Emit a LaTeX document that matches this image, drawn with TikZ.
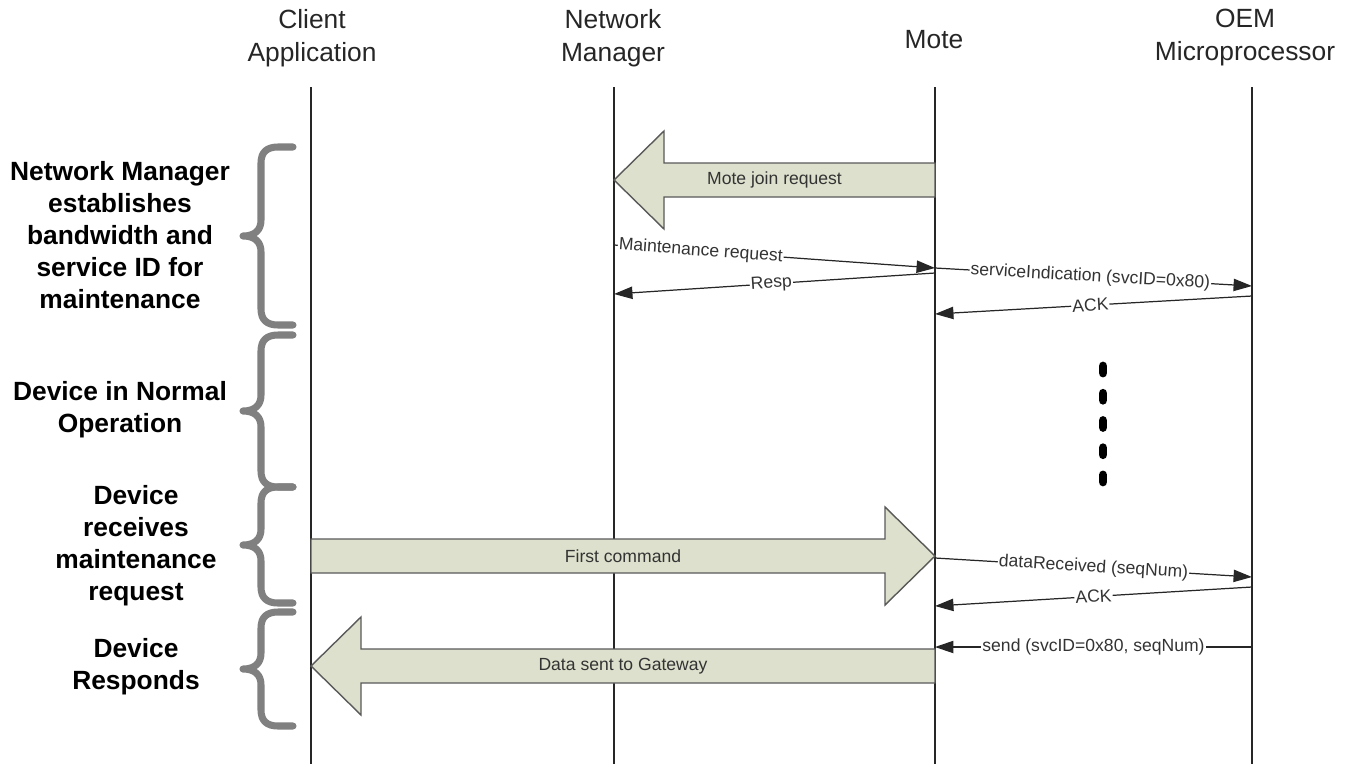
\documentclass[tikz,border=0pt]{standalone}
\usepackage{fontspec}
\setmainfont{Liberation Sans}
\usetikzlibrary{arrows.meta,calc}

\definecolor{armfill}{HTML}{DDE0CC}
\definecolor{curlgray}{HTML}{808080}

% 中括弧 (上端, 下端)
\newcommand\grpbrace[2]{%
  \draw[curl] (293,#1) -- (278,#1) .. controls (267,#1) and (261,#1+5) .. (261,#1+16)
    -- (261,{(#1+#2)/2-16}) .. controls (261,{(#1+#2)/2-6}) and (255,{(#1+#2)/2}) .. (243,{(#1+#2)/2})
    .. controls (255,{(#1+#2)/2}) and (261,{(#1+#2)/2+6}) .. (261,{(#1+#2)/2+16})
    -- (261,#2-16) .. controls (261,#2-5) and (267,#2) .. (278,#2) -- (293,#2);}

\begin{document}
\begin{tikzpicture}[x=0.02cm,y=-0.02cm,>={Triangle[length=10.5pt,width=7pt]},
  actor/.style={align=center,font=\fontsize{15}{18.8}\selectfont,text=black!85},
  phase/.style={align=center,font=\fontsize{15}{18.2}\selectfont\bfseries},
  life/.style={line width=1.1pt,black!85},
  msg/.style={->,line width=0.7pt,black!85},
  msglbl/.style={fill=white,inner sep=0.6pt,sloped,font=\fontsize{10}{12}\selectfont,text=black!80},
  biglbl/.style={inner sep=0pt,font=\fontsize{10}{12}\selectfont,text=black!80},
  fatarrow/.style={fill=armfill,draw=black!65,line width=0.8pt,line join=miter},
  curl/.style={draw=curlgray,line width=4pt,line cap=round,line join=round},
  dots/.style={line width=5pt,line cap=round,dash pattern=on 4pt off 11.5pt}]
  \useasboundingbox (0,0) rectangle (1351,764);
  % 見出し
  \node[actor] (client) at (312,38) {Client\\Application};
  \node[actor] (netmgr) at (613,38) {Network\\Manager};
  \node[actor] (mote) at (934,40) {Mote};
  \node[actor] (oem) at (1245,38) {OEM\\Microprocessor};
  % ライフライン
  \foreach \n/\x in {cl/311,nm/614,mo/935,oe/1252}{
    \coordinate (\n-top) at (\x,87);
    \coordinate (\n-bot) at (\x,764);
    \draw[life] (\n-top) -- (\n-bot);
  }
  % 太矢印
  \coordinate (join-a) at (935,180);
  \coordinate (join-b) at (614,180);
  \draw[fatarrow] ($(join-a)+(0,-17)$) -- ($(join-b)+(50,-17)$) -- ($(join-b)+(50,-49)$)
    -- (join-b) -- ($(join-b)+(50,49)$) -- ($(join-b)+(50,17)$) -- ($(join-a)+(0,17)$) -- cycle;
  \node[biglbl] (joinlbl) at ($(join-a)!.5!(join-b)$) {Mote join request};
  \coordinate (cmd-a) at (311,556);
  \coordinate (cmd-b) at (935,556);
  \draw[fatarrow] ($(cmd-a)+(0,-17)$) -- ($(cmd-b)+(-50,-17)$) -- ($(cmd-b)+(-50,-49)$)
    -- (cmd-b) -- ($(cmd-b)+(-50,49)$) -- ($(cmd-b)+(-50,17)$) -- ($(cmd-a)+(0,17)$) -- cycle;
  \node[biglbl] (cmdlbl) at ($(cmd-a)!.5!(cmd-b)$) {First command};
  \coordinate (gw-a) at (935,666);
  \coordinate (gw-b) at (311,666);
  \draw[fatarrow] ($(gw-a)+(0,-17)$) -- ($(gw-b)+(50,-17)$) -- ($(gw-b)+(50,-49)$)
    -- (gw-b) -- ($(gw-b)+(50,49)$) -- ($(gw-b)+(50,17)$) -- ($(gw-a)+(0,17)$) -- cycle;
  \node[biglbl] (gwlbl) at ($(gw-a)!.5!(gw-b)$) {Data sent to Gateway};
  % メッセージ
  \coordinate (mr-a) at (614,245);  \coordinate (mr-b) at (935,268);
  \coordinate (rs-a) at (935,273);  \coordinate (rs-b) at (614,294);
  \coordinate (si-a) at (935,268);  \coordinate (si-b) at (1252,286);
  \coordinate (ak-a) at (1252,296); \coordinate (ak-b) at (935,314);
  \coordinate (dr-a) at (935,558);  \coordinate (dr-b) at (1252,577);
  \coordinate (ac-a) at (1252,587); \coordinate (ac-b) at (935,606);
  \coordinate (sd-a) at (1252,647); \coordinate (sd-b) at (935,647);
  \draw[msg] (mr-a) -- node[msglbl,pos=.27] (mrlbl) {Maintenance request} (mr-b);
  \draw[msg] (rs-a) -- node[msglbl,pos=.51] (rslbl) {Resp} (rs-b);
  \draw[msg] (si-a) -- node[msglbl,pos=.49] (silbl) {serviceIndication (svcID=0x80)} (si-b);
  \draw[msg] (ak-a) -- node[msglbl,pos=.51] (aklbl) {ACK} (ak-b);
  \draw[msg] (dr-a) -- node[msglbl,pos=.5] (drlbl) {dataReceived (seqNum)} (dr-b);
  \draw[msg] (ac-a) -- node[msglbl,pos=.5] (aclbl) {ACK} (ac-b);
  \draw[msg] (sd-a) -- node[msglbl,pos=.5] (sdlbl) {send (svcID=0x80, seqNum)} (sd-b);
  % 点線
  \draw[dots] (1103,366) -- (1103,484);
  % 区間
  \grpbrace{147}{325}
  \grpbrace{335}{487}
  \grpbrace{487}{603}
  \grpbrace{612}{726}
  \node[phase] (ph1) at (120,235) {Network Manager\\establishes\\bandwidth and\\service ID for\\maintenance};
  \node[phase] (ph2) at (120,410) {Device in Normal\\Operation};
  \node[phase] (ph3) at (136,546) {Device\\receives\\maintenance\\request};
  \node[phase] (ph4) at (136,667) {Device\\Responds};
\end{tikzpicture}
\end{document}
